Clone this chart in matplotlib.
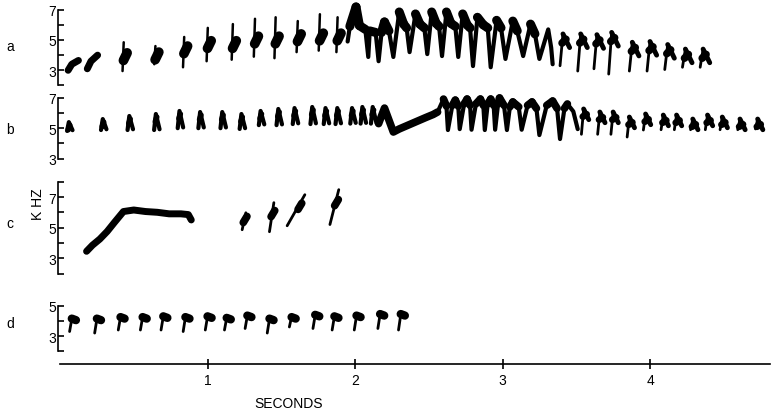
import numpy as np
import matplotlib
matplotlib.use("Agg")
import matplotlib.pyplot as plt

plt.rcParams['font.family'] = ['Liberation Sans', 'DejaVu Sans']

# ---------------- data (seconds, kHz) ----------------
# panel a: separate notes before the trill
a_pre_t = [0.09, 0.22, 0.43, 0.645, 0.84, 1.00, 1.17, 1.32, 1.46, 1.61, 1.76, 1.88]
a_pre_low = [3.0, 3.1, 2.95, 3.4, 3.2, 3.6, 3.7, 3.9, 3.8, 4.2, 4.3, 4.2]
a_pre_peak = [3.65, 4.0, 4.85, 4.6, 5.2, 5.8, 6.05, 6.4, 6.5, 6.25, 6.7, 6.5]
a_pre_body = [3.4, 3.6, 3.95, 4.0, 4.4, 4.75, 4.75, 5.05, 5.05, 5.2, 5.25, 5.25]
# panel a: continuous trill (trace vertices)
a_trill_t = [1.95, 1.965, 2.007, 2.03, 2.07, 2.09, 2.10, 2.14, 2.16, 2.18, 2.20, 2.23,
             2.26, 2.30, 2.33, 2.35, 2.37, 2.41, 2.44, 2.47, 2.49, 2.52, 2.55, 2.57,
             2.59, 2.62, 2.65, 2.68, 2.70, 2.73, 2.76, 2.78, 2.80, 2.83, 2.87, 2.90,
             2.92, 2.96, 2.99, 3.02, 3.07, 3.10, 3.14, 3.19, 3.22, 3.25, 3.31, 3.33, 3.34]
a_trill_f = [4.9, 5.9, 7.18, 5.95, 5.7, 3.88, 5.6, 5.5, 3.6, 5.5, 6.19, 5.6,
             3.88, 6.85, 6.05, 5.8, 4.2, 6.72, 6.05, 5.8, 4.07, 6.85, 6.1, 5.9,
             3.94, 6.85, 6.1, 5.9, 3.88, 6.72, 6.0, 5.8, 3.28, 6.5, 6.0, 5.8,
             3.2, 6.3, 5.8, 3.75, 6.25, 5.6, 3.94, 6.05, 5.4, 3.75, 5.7, 4.5, 3.4]
# panel a: notes after the trill
a_post_t = [3.41, 3.53, 3.64, 3.74, 3.88, 4.00, 4.12, 4.24, 4.36]
a_post_low = [3.3, 2.95, 3.1, 2.75, 2.95, 2.95, 3.05, 3.2, 3.2]
a_post_peak = [5.4, 5.4, 5.35, 5.5, 4.85, 4.9, 4.7, 4.4, 4.4]

# panel b
b_pre_t = [0.06, 0.29, 0.47, 0.65, 0.81, 0.95, 1.10, 1.23, 1.36, 1.48, 1.59,
           1.71, 1.80, 1.88, 1.98, 2.05, 2.12]
b_pre_low = [4.82, 4.88, 4.88, 4.88, 5.0, 5.0, 5.0, 4.95, 5.2, 5.2, 5.27,
             5.27, 5.27, 5.27, 5.3, 5.3, 5.3]
b_pre_peak = [5.4, 5.6, 5.8, 5.93, 6.13, 6.06, 6.06, 5.93, 6.13, 6.26, 6.32,
              6.39, 6.32, 6.32, 6.32, 6.39, 6.39]
b_trill_t = [2.16, 2.20, 2.26, 2.30, 2.36, 2.42, 2.48, 2.53, 2.56,
             2.60, 2.62, 2.63, 2.66, 2.68, 2.70, 2.71, 2.74, 2.76, 2.78, 2.79,
             2.82, 2.85, 2.87, 2.88, 2.90, 2.92, 2.94, 2.95, 2.97, 2.98, 3.01, 3.03,
             3.05, 3.07, 3.11, 3.13, 3.17, 3.20, 3.23, 3.25, 3.30, 3.34, 3.37, 3.39,
             3.42, 3.44, 3.48, 3.51]
b_trill_f = [5.3, 6.32, 4.75, 4.95, 5.2, 5.45, 5.7, 5.9, 6.06,
             6.91, 6.45, 4.88, 6.5, 6.84, 6.45, 4.94, 6.6, 6.91, 6.5, 4.9,
             6.6, 6.91, 6.5, 4.88, 6.6, 6.91, 6.5, 4.9, 6.6, 6.98, 6.5, 4.88,
             6.4, 6.72, 6.4, 4.9, 6.5, 6.72, 6.3, 4.55, 6.5, 6.78, 6.3, 4.29,
             6.3, 6.59, 6.1, 4.94]
b_post_t = [3.55, 3.66, 3.75, 3.86, 3.97, 4.09, 4.18, 4.29, 4.39, 4.49, 4.61, 4.73]
b_post_peak = [6.26, 6.06, 6.06, 5.73, 5.93, 5.86, 5.86, 5.6, 5.86, 5.73, 5.6, 5.6]
b_post_low = [4.6, 4.6, 4.6, 4.42, 4.88, 4.9, 4.9, 4.9, 4.9, 4.9, 4.9, 4.95]

# panel c
c_long_t = [0.18, 0.22, 0.27, 0.32, 0.37, 0.43, 0.50, 0.58, 0.66, 0.74, 0.82, 0.87, 0.89]
c_long_f = [3.45, 3.85, 4.25, 4.75, 5.35, 6.05, 6.15, 6.05, 6.0, 5.9, 5.9, 5.85, 5.5]
c_note_t0 = [1.235, 1.42, 1.54, 1.83]
c_note_t1 = [1.26, 1.45, 1.66, 1.89]
c_note_low = [4.86, 4.73, 5.12, 5.2]
c_note_peak = [5.97, 6.63, 7.15, 7.48]

# panel d
d_t = [0.08, 0.25, 0.41, 0.56, 0.70, 0.85, 1.00, 1.13, 1.27, 1.42, 1.57,
       1.73, 1.86, 2.01, 2.17, 2.31]
d_low = [3.3, 3.2, 3.4, 3.4, 3.4, 3.3, 3.4, 3.4, 3.5, 3.2, 3.6,
         3.5, 3.4, 3.4, 3.5, 3.4]
d_top = [4.3, 4.3, 4.4, 4.4, 4.45, 4.4, 4.45, 4.35, 4.5, 4.3, 4.4,
         4.55, 4.45, 4.5, 4.6, 4.6]

x_ticks = [1, 2, 3, 4]

# ---------------- layout ----------------
W, H = 771, 414
fig = plt.figure(figsize=(W / 100, H / 100), dpi=100)
fig.patch.set_facecolor('white')
PPS = 147.5          # pixels per second
T0PX = 60            # pixel of t = 0
SPX = 58             # pixel of the y spines
XR = 770
xlim = ((SPX - T0PX) / PPS, (XR - T0PX) / PPS)
K = dict(color='black', solid_capstyle='round', solid_joinstyle='round')


def add_panel(top_px, top_val, lo, hi, tick_lo, tick_hi, labels, ppk=15.2):
    y_hi_px = top_px - (hi - top_val) * ppk
    y_lo_px = top_px + (top_val - lo) * ppk
    ax = fig.add_axes([SPX / W, 1 - y_lo_px / H, (XR - SPX) / W,
                       (y_lo_px - y_hi_px) / H], facecolor='none')
    ax.set_xlim(*xlim)
    ax.set_ylim(lo, hi)
    for s in ['top', 'right', 'bottom']:
        ax.spines[s].set_visible(False)
    ax.spines['left'].set_bounds(tick_lo, tick_hi)
    ax.spines['left'].set_linewidth(1.2)
    ticks = list(range(tick_lo, tick_hi + 1))
    ax.set_yticks(ticks, [str(v) if v in labels else '' for v in ticks])
    ax.tick_params(axis='y', direction='in', length=4.5, width=1.2, pad=1.5,
                   labelsize=10)
    ax.set_xticks([])
    return ax


def trill(ax, ts, fs, thr, lw_line, lw_top):
    ax.plot(ts, fs, lw=lw_line, **K)
    # thick upper plateaus of each trill element
    for i in range(len(ts) - 1):
        if fs[i] >= thr and fs[i + 1] >= thr:
            ax.plot(ts[i:i + 2], fs[i:i + 2], lw=lw_top, **K)


ax_a = add_panel(10.7, 7, 1.5, 7.6, 2, 7, [7, 5, 3], ppk=15.15)
ax_b = add_panel(98.7, 7, 2.6, 7.6, 3, 7, [7, 5, 3], ppk=15.25)
ax_c = add_panel(198.0, 7, 1.6, 8.3, 2, 8, [7, 5, 3], ppk=15.3)
ax_d = add_panel(306.7, 5, 1.6, 5.4, 2, 5, [5, 3], ppk=15.2)

# ---- panel a ----
for t, lo, pk, bd in zip(a_pre_t, a_pre_low, a_pre_peak, a_pre_body):
    if pk - lo < 1.0:
        ax_a.plot([t - 0.035, t - 0.01, t + 0.035], [lo, bd, pk], lw=5.0, **K)
    else:
        ax_a.plot([t - 0.006, t + 0.002], [lo, pk], lw=1.8, **K)
        ax_a.plot([t + 0.0, t + 0.025], [bd - 0.3, bd + 0.2], lw=7.0, **K)
ax_a.plot
trill(ax_a, a_trill_t, a_trill_f, 5.3, 3.0, 6.5)
for t, lo, pk in zip(a_post_t, a_post_low, a_post_peak):
    ax_a.plot([t - 0.02, t], [lo, pk], lw=2.0, **K)
    ax_a.plot([t, t + 0.045], [pk, pk - 0.9], lw=3.5, **K)
    ax_a.plot([t - 0.006, t + 0.02], [pk - 0.6, pk - 0.35], lw=5.5, **K)

# ---- panel b ----
for t, lo, pk in zip(b_pre_t, b_pre_low, b_pre_peak):
    ax_b.plot([t - 0.012, t, t + 0.025], [lo, pk, lo + 0.05], lw=3.0, **K)
    ax_b.plot([t - 0.004, t + 0.006], [pk - 0.5, pk - 0.2], lw=4.0, **K)
ax_b.plot(b_trill_t[:9], b_trill_f[:9], lw=5.5, **K)
trill(ax_b, b_trill_t[8:], b_trill_f[8:], 6.2, 3.0, 5.5)
for t, lo, pk in zip(b_post_t, b_post_low, b_post_peak):
    ax_b.plot([t - 0.015, t], [lo, pk], lw=2.0, **K)
    ax_b.plot([t, t + 0.035], [pk, pk - 0.7], lw=3.5, **K)
    ax_b.plot([t - 0.005, t + 0.02], [pk - 0.5, pk - 0.35], lw=5.0, **K)

# ---- panel c ----
ax_c.plot(c_long_t, c_long_f, lw=5.0, **K)
for t0, t1, lo, pk in zip(c_note_t0, c_note_t1, c_note_low, c_note_peak):
    ax_c.plot([t0, t1], [lo, pk], lw=2.0, **K)
    tm = t0 + 0.7 * (t1 - t0)
    fm = lo + 0.65 * (pk - lo)
    ax_c.plot([tm - 0.01, tm + 0.015], [fm - 0.25, fm + 0.15], lw=5.5, **K)

# ---- panel d ----
for t, lo, tp in zip(d_t, d_low, d_top):
    ax_d.plot([t - 0.015, t + 0.003], [lo, tp], lw=2.0, **K)
    ax_d.plot([t, t + 0.028], [tp - 0.15, tp - 0.25], lw=6.0, **K)

# ---- x axis ----
xax_y = 365
ax_x = fig.add_axes([SPX / W, 1 - xax_y / H, (XR - SPX) / W, 0.001], facecolor='none')
ax_x.set_xlim(*xlim)
for s in ['top', 'right', 'left']:
    ax_x.spines[s].set_visible(False)
ax_x.spines['bottom'].set_bounds(0, xlim[1])
ax_x.spines['bottom'].set_linewidth(1.2)
ax_x.set_yticks([])
ax_x.set_xticks(x_ticks, [str(v) for v in x_ticks])
ax_x.tick_params(axis='x', direction='inout', length=6.5, width=1.2, pad=3,
                 labelsize=10)

# ---- labels ----
fig.text(10 / W, 1 - 47 / H, 'a', fontsize=10, ha='center', va='center')
fig.text(10 / W, 1 - 130 / H, 'b', fontsize=10, ha='center', va='center')
fig.text(10 / W, 1 - 224 / H, 'c', fontsize=10, ha='center', va='center')
fig.text(10 / W, 1 - 324 / H, 'd', fontsize=10, ha='center', va='center')
fig.text(38 / W, 1 - 204 / H, 'K HZ', fontsize=10, rotation=90,
         ha='center', va='center')
fig.text(289 / W, 1 - 404 / H, 'SECONDS', fontsize=10, ha='center', va='center')

fig.savefig('out.png', dpi=100, facecolor='white')
